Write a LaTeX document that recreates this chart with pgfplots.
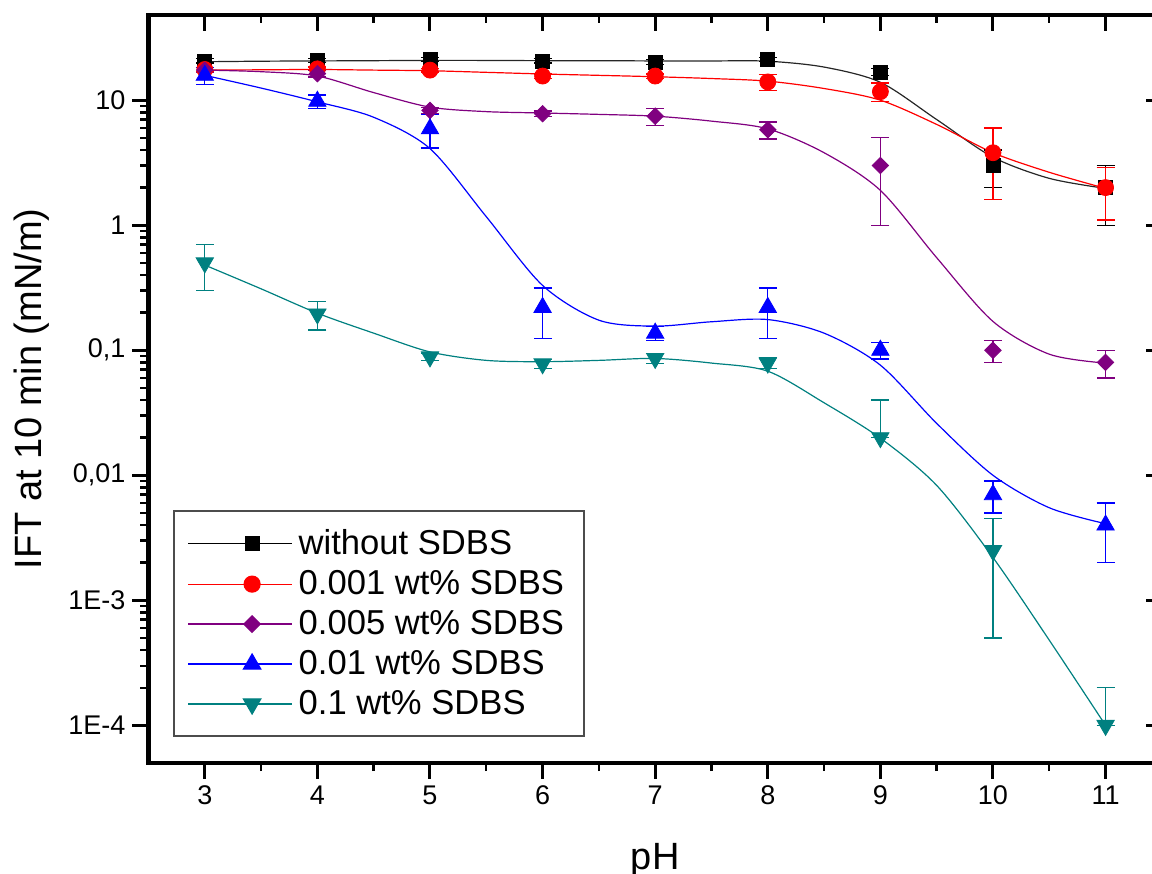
\documentclass[border=0pt]{standalone}
\usepackage{fontspec}
\setmainfont{Liberation Sans}
\usepackage{pgfplots}
\pgfplotsset{compat=1.18}
\definecolor{cpurple}{RGB}{128,0,128}
\definecolor{cteal}{RGB}{0,128,128}
\pgfplotsset{
  every axis plot/.append style={
    error bars/error bar style={line width=0.6pt},
    error bars/error mark options={rotate=90, mark size=4.5pt, line width=0.6pt}},
}
\begin{document}
\begin{tikzpicture}
\begin{axis}[scale only axis, width=506.7pt, height=374pt,
  xmin=2.5, xmax=11.5, ymode=log, ymin=5e-5, ymax=48,
  xtick={3,4,5,6,7,8,9,10,11}, minor x tick num=1,
  ytick={1e-4,1e-3,0.01,0.1,1,10},
  axis line style={line width=2pt},
  major tick length=8pt, minor tick length=4pt,
  major tick style={line width=1.5pt, black},
  minor tick style={line width=1.2pt, black},
  xtick pos=bottom, ytick pos=left, tick align=outside,
  yticklabels={1E-4,1E-3,{0,01},{0,1},1,10},
  /pgf/number format/assume math mode=true,
  tick label style={font=\fontsize{13.5}{16}\selectfont},
  label style={font=\fontsize{19}{22}\selectfont},
  xlabel={pH},
  xlabel style={at={(axis description cs:0.5,-0.142)}, anchor=base},
  ylabel={IFT at 10 min (mN/m)},
  ylabel style={at={(axis description cs:-0.133,0.5)}, anchor=north, inner sep=0pt},
  legend image code/.code={\path (0pt,0pt) -- (52pt,0pt);
    \draw[mark repeat=2,mark phase=2,#1] plot coordinates {(12pt,0pt) (32pt,0pt) (52pt,0pt)};},
  legend cell align=left,
  legend style={at={(rel axis cs:0.0237,0.0348)}, anchor=south west,
    draw=black!70, line width=1pt, inner xsep=7pt, inner ysep=6pt,
    font=\fontsize{17.3}{20}\selectfont,
    nodes={inner ysep=3.2pt, inner xsep=3pt}},
]
\coordinate (sw) at (rel axis cs:0,0);
% fitted curves
\addplot[black!85, line width=0.6pt, smooth, forget plot] coordinates {
 (3,20.3) (3.5,20.5) (4,20.6) (4.5,20.7) (5,20.8) (5.5,20.8) (6,20.7) (6.5,20.7) (7,20.6) (7.5,20.6) (8,20.5) (8.5,18.4) (9,13.9) (9.5,7.0) (10,3.5) (10.5,2.37) (11,1.97)};
\addplot[red, line width=0.6pt, smooth, forget plot] coordinates {
 (3,17.4) (3.5,17.5) (4,17.6) (4.5,17.4) (5,17.2) (5.5,16.7) (6,16.2) (6.5,15.8) (7,15.4) (7.5,14.9) (8,14.2) (8.5,12.4) (9,10) (9.5,6.4) (10,3.8) (10.5,2.65) (11,1.97)};
\addplot[cpurple, line width=0.6pt, smooth, forget plot] coordinates {
 (3,17.4) (3.5,16.9) (4,15.6) (4.5,11.5) (5,8.8) (5.5,8.1) (6,7.9) (6.5,7.7) (7,7.45) (7.5,6.8) (8,5.9) (8.5,3.8) (9,1.9) (9.5,0.55) (10,0.17) (10.5,0.093) (11,0.079)};
\addplot[blue, line width=0.6pt, smooth, forget plot] coordinates {
 (3,15.8) (3.5,12.5) (4,9.7) (4.5,7.3) (5,4.1) (5.5,1.17) (6,0.33) (6.5,0.174) (7,0.156) (7.5,0.169) (8,0.176) (8.5,0.137) (9,0.076) (9.5,0.026) (10,0.01) (10.5,0.0055) (11,0.0041)};
\addplot[cteal, line width=0.6pt, smooth, forget plot] coordinates {
 (3,0.48) (3.5,0.31) (4,0.198) (4.5,0.137) (5,0.097) (5.5,0.083) (6,0.081) (6.5,0.083) (7,0.086) (7.5,0.079) (8,0.068) (8.5,0.038) (9,0.0198) (9.5,0.0083) (10,0.0022) (10.5,0.00048) (11,0.0001)};
% data points
\addplot[black, only marks, mark=square*, mark size=3.5pt, forget plot,
  error bars/y dir=both, error bars/y explicit] coordinates {
 (3,20.6) +- (0,0.8) (4,20.9) +- (0,0.8) (5,21.3) +- (0,0.8) (6,20.6) +- (0,0.8) (7,20.2) +- (0,0.8) (8,21.3) +- (0,0.8) (9,16.8) +- (0,1) (10,3.0) +- (0,1) (11,2.0) +- (0,1)};
\addplot[red, only marks, mark=*, mark size=4pt, forget plot,
  error bars/y dir=both, error bars/y explicit] coordinates {
 (3,17.6) +- (0,0.6) (4,17.8) +- (0,0.6) (5,17.4) +- (0,0.6) (6,15.6) +- (0,0.6) (7,15.6) +- (0,0.6) (8,14.0) +- (0,2) (9,11.7) +- (0,2) (10,3.8) +- (0,2.2) (11,2.0) +- (0,0.9)};
\addplot[cpurple, only marks, mark=square*, mark size=2.9pt, mark options={rotate=45}, forget plot,
  error bars/y dir=both, error bars/y explicit] coordinates {
 (3,17.4) +- (0,0.8) (4,16.3) +- (0,1) (5,8.3) +- (0,0.5) (6,7.8) +- (0,0.4) (7,7.45) +- (0,1.15) (8,5.8) +- (0,0.9) (9,3.0) +- (0,2) (10,0.1) +- (0,0.02) (11,0.08) +- (0,0.02)};
\addplot[blue, only marks, mark=triangle*, mark size=5pt, forget plot,
  error bars/y dir=both, error bars/y explicit] coordinates {
 (3,15.8) +- (0,2.5) (4,9.8) +- (0,1.2) (5,5.9) +- (0,1.75) (6,0.22) +- (0,0.095) (7,0.137) +- (0,0.018) (8,0.22) +- (0,0.095) (9,0.1) +- (0,0.015) (10,0.007) +- (0,0.002) (11,0.004) +- (0,0.002)};
\addplot[cteal, only marks, mark=triangle*, mark size=5pt, mark options={rotate=180}, forget plot,
  error bars/y dir=both, error bars/y explicit] coordinates {
 (3,0.5) +- (0,0.2) (4,0.195) +- (0,0.05) (5,0.0885) +- (0,0.006) (6,0.078) +- (0,0.006) (7,0.086) +- (0,0.008) (8,0.079) +- (0,0.008) (9,0.02) += (0,0.02) -= (0,0) (10,0.0025) +- (0,0.002) (11,0.0001) += (0,0.0001) -= (0,0)};
% legend
\addlegendimage{black, line width=0.6pt, mark=square*, mark size=3.5pt}
\addlegendentry{without SDBS}
\addlegendimage{red, line width=0.6pt, mark=*, mark size=4pt}
\addlegendentry{0.001 wt\% SDBS}
\addlegendimage{cpurple, line width=0.6pt, mark=square*, mark size=2.9pt, mark options={rotate=45}}
\addlegendentry{0.005 wt\% SDBS}
\addlegendimage{blue, line width=0.6pt, mark=triangle*, mark size=5pt}
\addlegendentry{0.01 wt\% SDBS}
\addlegendimage{cteal, line width=0.6pt, mark=triangle*, mark size=5pt, mark options={rotate=180}}
\addlegendentry{0.1 wt\% SDBS}
\end{axis}
\begin{axis}[scale only axis, width=506.7pt, height=374pt,
  xmin=2.5, xmax=11.5, ymode=log, ymin=5e-5, ymax=48,
  xtick={3,4,5,6,7,8,9,10,11}, minor x tick num=1,
  ytick={1e-4,1e-3,0.01,0.1,1,10},
  axis line style={line width=2pt},
  major tick length=8pt, minor tick length=4pt,
  major tick style={line width=1.5pt, black},
  minor tick style={line width=1.2pt, black},
  xtick pos=top, ytick pos=right, tick align=inside,
  xticklabels={}, yticklabels={},
]
\end{axis}
\pgfresetboundingbox
\path[use as bounding box] ([xshift=-74.25pt, yshift=-55.35pt]sw) rectangle ([xshift=501.75pt, yshift=381.5pt]sw);
\end{tikzpicture}
\end{document}
